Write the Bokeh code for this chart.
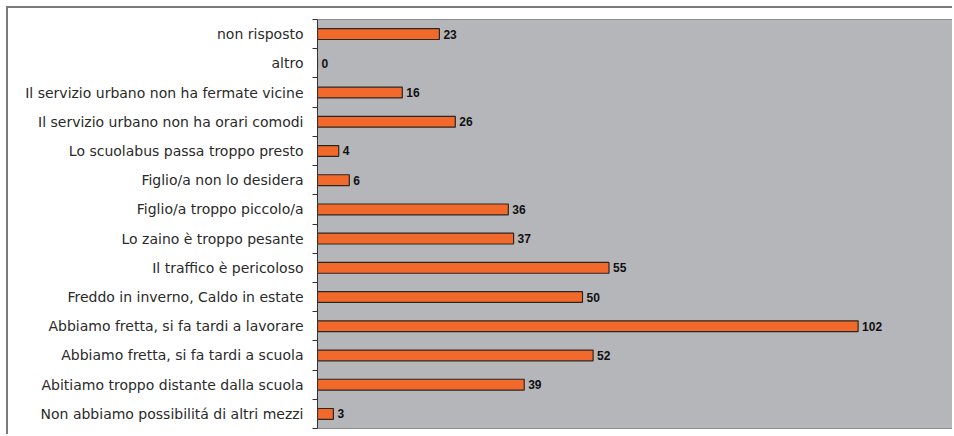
from bokeh.plotting import figure
from bokeh.models import ColumnDataSource, Range1d, FixedTicker, LabelSet
from bokeh.core.properties import value
from bokeh.embed import file_html
from bokeh.resources import INLINE

categories = [
    "non risposto",
    "altro",
    "Il servizio urbano non ha fermate vicine",
    "Il servizio urbano non ha orari comodi",
    "Lo scuolabus passa troppo presto",
    "Figlio/a non lo desidera",
    "Figlio/a troppo piccolo/a",
    "Lo zaino è troppo pesante",
    "Il traffico è pericoloso",
    "Freddo in inverno, Caldo in estate",
    "Abbiamo fretta, si fa tardi a lavorare",
    "Abbiamo fretta, si fa tardi a scuola",
    "Abitiamo troppo distante dalla scuola",
    "Non abbiamo possibilitá di altri mezzi",
]
values = [23, 0, 16, 26, 4, 6, 36, 37, 55, 50, 102, 52, 39, 3]

n = len(categories)
pos = list(range(n))
src = ColumnDataSource(dict(y=pos, v=values, lab=[str(v) for v in values]))

p = figure(width=946, height=428, output_backend="svg", toolbar_location=None,
           x_range=Range1d(0, 120), y_range=Range1d(n - 0.5, -0.5),
           x_axis_location=None,
           min_border_left=309, min_border_top=11, min_border_right=1, min_border_bottom=8,
           background_fill_color="#B5B6BA", border_fill_color="white")
p.margin = (6, 0, 0, 6)
p.styles = {"border-top": "2px solid #7A7A7A", "border-left": "2px solid #7A7A7A"}
p.grid.visible = False
p.outline_line_color = "#8E8E92"
p.outline_line_width = 1

p.hbar(y="y", right="v", left=0, height=0.37, source=src,
       fill_color="#F26A2B", line_color="#2E2620", line_width=1.2)

labels = LabelSet(x="v", y="y", text="lab", source=src, x_offset=4, y_offset=0,
                  text_font=value("Liberation Sans"), text_font_style="bold",
                  text_font_size="12px", text_baseline="middle", text_color="#111")
p.add_layout(labels)

ax = p.yaxis[0]
ax.ticker = FixedTicker(ticks=pos, minor_ticks=[i - 0.5 for i in range(n + 1)])
ax.major_label_overrides = {float(i): c for i, c in enumerate(categories)}
ax.major_tick_out = 0
ax.major_tick_in = 0
ax.minor_tick_out = 5
ax.minor_tick_in = 0
ax.minor_tick_line_color = "#333333"
ax.axis_line_color = "#333333"
ax.major_label_standoff = 9
ax.major_label_text_font = "DejaVu Sans"
ax.major_label_text_font_size = "14px"
ax.major_label_text_color = "#2A2A2A"

open("out.html", "w").write(file_html(p, INLINE))
